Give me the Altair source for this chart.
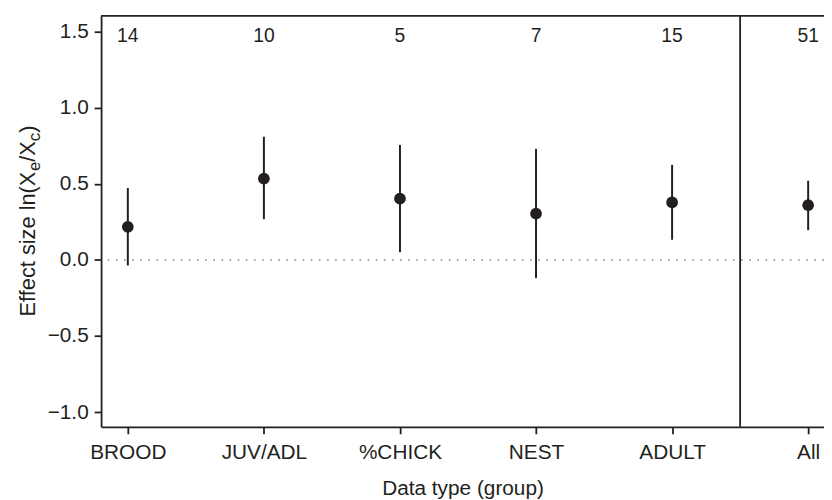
import json
import altair as alt
import pandas as pd

# ---- data ----
groups = ["BROOD", "JUV/ADL", "%CHICK", "NEST", "ADULT", "All"]
counts = [14, 10, 5, 7, 15, 51]
effect = [0.217, 0.533, 0.402, 0.303, 0.377, 0.359]
ci_low = [-0.037, 0.267, 0.050, -0.120, 0.132, 0.195]
ci_high = [0.472, 0.809, 0.755, 0.729, 0.624, 0.520]
y_ticks = [-1.0, -0.5, 0.0, 0.5, 1.0, 1.5]

INK = "#231f20"
FONT = "Liberation Sans"
W, H = 730, 415

df = pd.DataFrame({
    "pos": list(range(len(groups))),
    "group": groups,
    "n": counts,
    "mean": effect,
    "lo": ci_low,
    "hi": ci_high,
})

xscale = alt.Scale(domain=[-0.1965, 5.1164], nice=False, zero=False)
yscale = alt.Scale(domain=[-1.097, 1.603], nice=False, zero=False)

x_axis = alt.Axis(
    values=list(range(len(groups))),
    labelExpr=json.dumps(groups) + "[datum.value]",
    title="Data type (group)",
    grid=False,
    tickSize=7, tickWidth=1.8, tickColor=INK,
    domainColor=INK, domainWidth=1.8,
    labelFont=FONT, labelFontSize=21, labelColor=INK,
    labelBaseline="alphabetic", labelPadding=25.4,
    labelFlush=False, labelOverlap=False,
    titleFont=FONT, titleFontSize=21, titleFontWeight="normal",
    titleColor=INK, titleBaseline="alphabetic", titleY=68.5,
)
y_axis = alt.Axis(
    values=y_ticks, format=".1f", title=None, grid=False,
    tickSize=7, tickWidth=1.8, tickColor=INK,
    domainColor=INK, domainWidth=1.8,
    labelFont=FONT, labelFontSize=21, labelColor=INK,
    labelPadding=6, labelFlush=False, labelOverlap=False,
)


def X(field):
    return alt.X(field, type="quantitative", scale=xscale, axis=x_axis)


def Y(field):
    return alt.Y(field, type="quantitative", scale=yscale, axis=y_axis)


zero_line = alt.Chart(pd.DataFrame({"v": [0.0]})).mark_rule(
    color="#9a9a9a", strokeWidth=1.7, strokeDash=[1.7, 6.5]
).encode(y=Y("v"))

separator = alt.Chart(pd.DataFrame({"sep": [len(groups) - 1.5]})).mark_rule(
    color=INK, strokeWidth=1.8
).encode(x=X("sep"))

top_border = alt.Chart(pd.DataFrame({"a": [0]})).mark_rule(
    color=INK, strokeWidth=1.8
).encode(x=alt.value(0), x2=alt.value(W), y=alt.value(0))

bars = alt.Chart(df).mark_rule(color=INK, strokeWidth=2).encode(
    x=X("pos"), y=Y("lo"), y2="hi"
)

points = alt.Chart(df).mark_circle(size=140, color=INK, opacity=1).encode(
    x=X("pos"), y=Y("mean")
)

count_text = alt.Chart(df).mark_text(
    font=FONT, fontSize=19.5, baseline="alphabetic", color=INK
).encode(x=X("pos"), y=alt.value(26.5), text="n:Q")

# ---- y-axis title with subscripts, built from rotated text pieces ----
ARIAL = {"E": .667, "f": .278, "e": .556, "c": .5, "t": .278, " ": .278,
         "s": .5, "i": .222, "z": .5, "l": .222, "n": .556, "(": .333,
         "X": .667, "/": .278, ")": .333}


def text_width(s, size):
    return sum(ARIAL[ch] for ch in s) * size


F_MAIN, F_SUB = 22, 17
BASE_X = -66.5
SUB_SHIFT = 4.5
pieces = [("Effect size ln(X", F_MAIN, 0), ("e", F_SUB, SUB_SHIFT),
          ("/X", F_MAIN, 0), ("c", F_SUB, SUB_SHIFT), (")", F_MAIN, 0)]
title_layers = []
cursor = 303.5
for txt, size, shift in pieces:
    title_layers.append(
        alt.Chart(pd.DataFrame({"t": [txt]})).mark_text(
            angle=270, align="left", baseline="alphabetic",
            font=FONT, fontSize=size, color=INK
        ).encode(text="t:N", x=alt.value(BASE_X + shift), y=alt.value(cursor))
    )
    cursor -= text_width(txt, size)

chart = alt.layer(
    zero_line, separator, top_border, bars, points, count_text, *title_layers
).properties(
    width=W, height=H,
    padding={"left": 94, "top": 5.5, "right": 0, "bottom": 76},
    autosize=alt.AutoSizeParams(type="none"),
    background="white",
).configure_view(stroke=None)

chart.save("out.html", embed_options={"renderer": "svg", "actions": False})
